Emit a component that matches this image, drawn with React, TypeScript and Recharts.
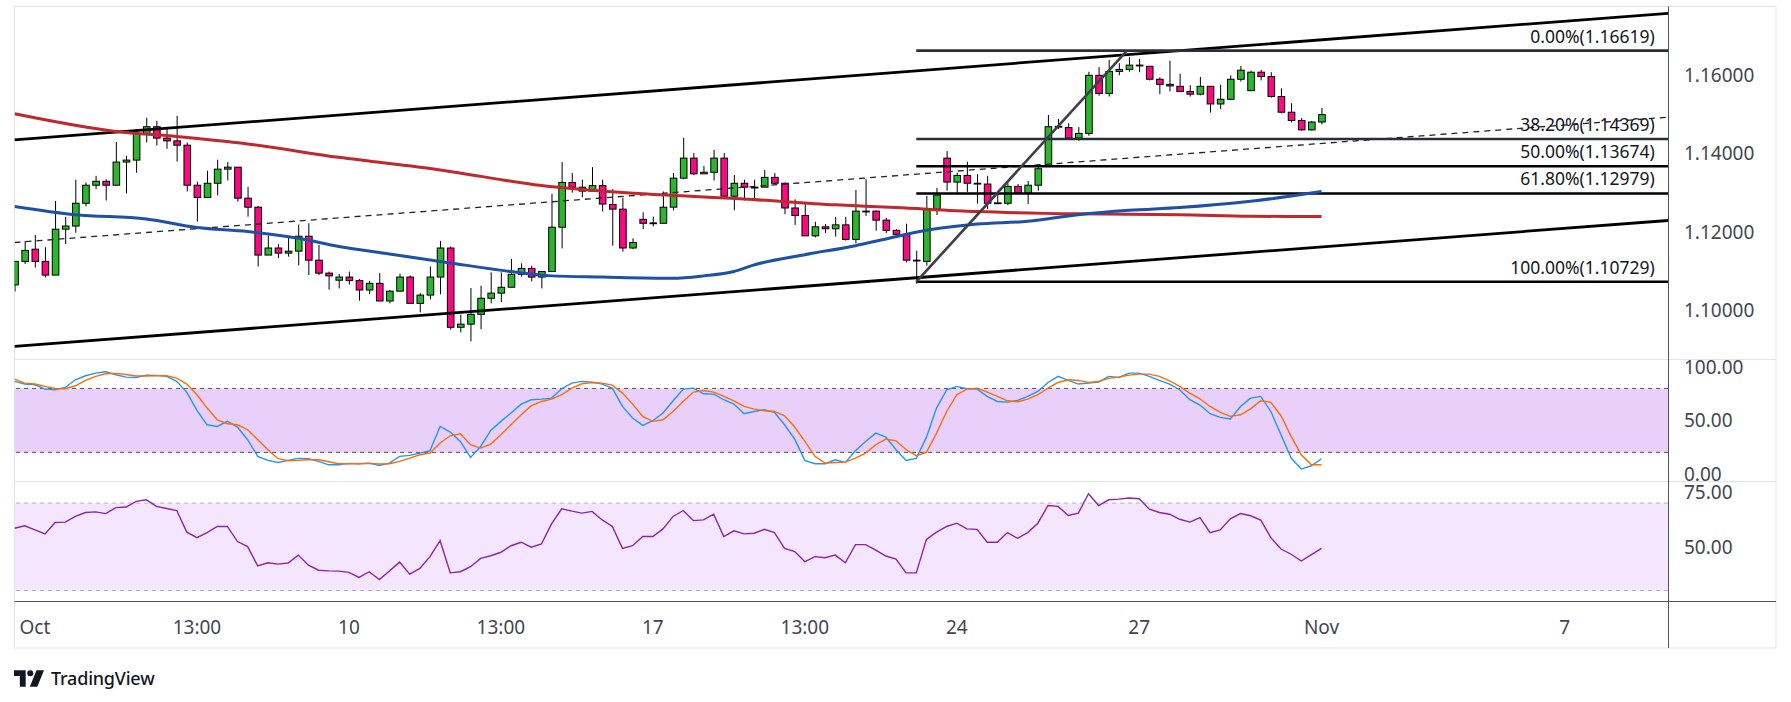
import React from 'react';
import { ComposedChart, Bar, Line, Scatter, XAxis, YAxis, ReferenceLine, ReferenceArea } from 'recharts';

const W = 1791;
const H = 702;
const FONT = '"Noto Sans", sans-serif';
const GREEN = '#2db52d';
const PINK = '#fa0a80';
const X_DOMAIN: [number, number] = [-3.01, 160.2];

// 4h bars, index 0 = first bar of Oct 3
const firstBar = -3;
const opens = [
  1.1065, 1.1125, 1.1156, 1.1125, 1.1090, 1.1207, 1.1215, 1.1273, 1.1319, 1.1329,
  1.1319, 1.1378, 1.1383, 1.1451, 1.1468, 1.1439, 1.1432, 1.1421, 1.1319, 1.1288,
  1.1324, 1.1360, 1.1365, 1.1286, 1.1263, 1.1141, 1.1159, 1.1146, 1.1151, 1.1189,
  1.1128, 1.1095, 1.1077, 1.1085, 1.1076, 1.1052, 1.1069, 1.1024, 1.1049, 1.1085,
  1.1018, 1.1039, 1.1085, 1.1159, 1.0957, 1.0965, 1.0990, 1.1031, 1.1044, 1.1059,
  1.1092, 1.1107, 1.1085, 1.1099, 1.1212, 1.1326, 1.1314, 1.1304, 1.1318, 1.1270,
  1.1258, 1.1159, 1.1232, 1.1222, 1.1222, 1.1263, 1.1337, 1.1388, 1.1348, 1.1352,
  1.1388, 1.1291, 1.1324, 1.1313, 1.1314, 1.1339, 1.1324, 1.1261, 1.1242, 1.1190,
  1.1213, 1.1208, 1.1218, 1.1181, 1.1253, 1.1253, 1.1230, 1.1204, 1.1194, 1.1127,
  1.1125, 1.1258, 1.1388, 1.1327, 1.1344, 1.1323, 1.1322, 1.1273, 1.1273, 1.1316,
  1.1299, 1.1319, 1.1368, 1.1468, 1.1466, 1.1439, 1.1451, 1.1599, 1.1553, 1.1609,
  1.1614, 1.1625, 1.1622, 1.1589, 1.1576, 1.1571, 1.1558, 1.1551, 1.1571, 1.1526,
  1.1538, 1.1589, 1.1560, 1.1607, 1.1596, 1.1545, 1.1505, 1.1484, 1.1460, 1.1480,
];
const highs = [
  1.1125, 1.1177, 1.1192, 1.1161, 1.1279, 1.1238, 1.1333, 1.1326, 1.1343, 1.1334,
  1.1429, 1.1394, 1.1462, 1.1491, 1.1483, 1.1464, 1.1496, 1.1428, 1.1328, 1.1356,
  1.1384, 1.1378, 1.1365, 1.1315, 1.1266, 1.1191, 1.1169, 1.1187, 1.1219, 1.1222,
  1.1167, 1.1099, 1.1093, 1.1099, 1.1080, 1.1075, 1.1095, 1.1052, 1.1094, 1.1089,
  1.1044, 1.1112, 1.1177, 1.1163, 1.0989, 1.1057, 1.1063, 1.1097, 1.1097, 1.1131,
  1.1120, 1.1114, 1.1099, 1.1297, 1.1378, 1.1350, 1.1333, 1.1365, 1.1333, 1.1309,
  1.1287, 1.1184, 1.1250, 1.1239, 1.1303, 1.1350, 1.1440, 1.1401, 1.1368, 1.1409,
  1.1401, 1.1345, 1.1333, 1.1333, 1.1358, 1.1350, 1.1326, 1.1283, 1.1276, 1.1226,
  1.1220, 1.1238, 1.1238, 1.1307, 1.1334, 1.1254, 1.1236, 1.1207, 1.1221, 1.1152,
  1.1292, 1.1312, 1.1406, 1.1351, 1.1379, 1.1347, 1.1343, 1.1303, 1.1324, 1.1322,
  1.1330, 1.1373, 1.1498, 1.1488, 1.1477, 1.1467, 1.1608, 1.1620, 1.1638, 1.1630,
  1.1645, 1.1641, 1.1622, 1.1594, 1.1636, 1.1603, 1.1574, 1.1595, 1.1571, 1.1575,
  1.1599, 1.1623, 1.1611, 1.1613, 1.1607, 1.1566, 1.1528, 1.1490, 1.1483, 1.1516,
];
const lows = [
  1.1048, 1.1118, 1.1109, 1.1084, 1.1090, 1.1169, 1.1198, 1.1265, 1.1309, 1.1280,
  1.1319, 1.1298, 1.1351, 1.1428, 1.1420, 1.1412, 1.1379, 1.1303, 1.1226, 1.1288,
  1.1293, 1.1331, 1.1277, 1.1239, 1.1112, 1.1141, 1.1133, 1.1137, 1.1115, 1.1090,
  1.1090, 1.1053, 1.1056, 1.1066, 1.1025, 1.1041, 1.1024, 1.1018, 1.1049, 1.1017,
  1.0995, 1.1028, 1.1041, 1.0951, 1.0944, 1.0921, 1.0952, 1.1018, 1.1021, 1.1059,
  1.1086, 1.1074, 1.1056, 1.1099, 1.1158, 1.1300, 1.1288, 1.1304, 1.1252, 1.1165,
  1.1150, 1.1156, 1.1207, 1.1214, 1.1222, 1.1255, 1.1334, 1.1345, 1.1348, 1.1331,
  1.1285, 1.1255, 1.1280, 1.1280, 1.1314, 1.1320, 1.1245, 1.1218, 1.1190, 1.1186,
  1.1197, 1.1188, 1.1178, 1.1171, 1.1241, 1.1203, 1.1197, 1.1187, 1.1122, 1.1068,
  1.1114, 1.1243, 1.1305, 1.1300, 1.1302, 1.1272, 1.1258, 1.1271, 1.1268, 1.1298,
  1.1271, 1.1305, 1.1368, 1.1462, 1.1439, 1.1432, 1.1445, 1.1547, 1.1545, 1.1599,
  1.1608, 1.1607, 1.1586, 1.1551, 1.1558, 1.1558, 1.1545, 1.1548, 1.1504, 1.1513,
  1.1536, 1.1583, 1.1560, 1.1586, 1.1542, 1.1502, 1.1479, 1.1458, 1.1458, 1.1474,
];
const closes = [
  1.1125, 1.1153, 1.1125, 1.1090, 1.1207, 1.1215, 1.1273, 1.1319, 1.1329, 1.1319,
  1.1378, 1.1383, 1.1451, 1.1468, 1.1439, 1.1432, 1.1421, 1.1319, 1.1288, 1.1324,
  1.1360, 1.1365, 1.1286, 1.1263, 1.1141, 1.1159, 1.1146, 1.1151, 1.1189, 1.1128,
  1.1095, 1.1088, 1.1085, 1.1076, 1.1052, 1.1069, 1.1024, 1.1049, 1.1085, 1.1018,
  1.1039, 1.1085, 1.1159, 1.0957, 1.0965, 1.0990, 1.1031, 1.1044, 1.1059, 1.1092,
  1.1107, 1.1085, 1.1099, 1.1212, 1.1326, 1.1314, 1.1304, 1.1318, 1.1271, 1.1258,
  1.1159, 1.1173, 1.1222, 1.1223, 1.1263, 1.1337, 1.1388, 1.1348, 1.1352, 1.1388,
  1.1291, 1.1324, 1.1314, 1.1314, 1.1339, 1.1324, 1.1261, 1.1242, 1.1190, 1.1213,
  1.1208, 1.1218, 1.1181, 1.1253, 1.1252, 1.1230, 1.1204, 1.1194, 1.1128, 1.1128,
  1.1258, 1.1294, 1.1327, 1.1344, 1.1324, 1.1324, 1.1273, 1.1274, 1.1316, 1.1299,
  1.1319, 1.1361, 1.1468, 1.1469, 1.1439, 1.1451, 1.1599, 1.1553, 1.1609, 1.1614,
  1.1625, 1.1624, 1.1589, 1.1576, 1.1572, 1.1558, 1.1551, 1.1571, 1.1526, 1.1538,
  1.1589, 1.1612, 1.1607, 1.1596, 1.1545, 1.1505, 1.1484, 1.1460, 1.1480, 1.1499,
];

// moving averages, read at a handful of bars
const slowMaBars = [-3, 7, 13, 20, 29, 39, 49, 59, 69, 78, 84, 92, 102, 112, 119, 126];
const slowMa = [1.1501, 1.1456, 1.1443, 1.1424, 1.1390, 1.1358, 1.1318, 1.1297, 1.1284, 1.1269, 1.1262, 1.1252, 1.1246, 1.1244, 1.1240, 1.1239];
const fastMaBars = [-3, 3, 10, 15, 20, 25, 29, 34, 40, 46, 50, 55, 62, 65, 68, 70, 75, 80, 83, 87, 92, 97, 102, 107, 112, 119, 126];
const fastMa = [1.1265, 1.1244, 1.1233, 1.1211, 1.1201, 1.1184, 1.1163, 1.1144, 1.1121, 1.1099, 1.1088, 1.1085, 1.1082, 1.1088, 1.1099, 1.1116, 1.1142, 1.1165, 1.1182, 1.1204, 1.1220, 1.1227, 1.1244, 1.1255, 1.1262, 1.1278, 1.1303];

const stochK = [
  86.6, 84.1, 83.4, 79.4, 78.8, 80.9, 88.1, 91.9, 94.4, 95.6, 92.8, 90.6, 90.3, 92.5, 92.2, 91.3, 86.6, 76.3, 59.4, 45.9,
  44.4, 49.1, 43.8, 31.9, 16.3, 12.5, 10.6, 12.5, 14.4, 14.1, 11.6, 8.4, 8.4, 9.7, 9.4, 10.0, 7.8, 10.0, 16.3, 17.2,
  19.4, 21.6, 44.4, 39.1, 30.3, 15.3, 25.6, 40.6, 49.1, 56.9, 65.3, 69.4, 70.0, 70.9, 79.7, 85.0, 86.6, 85.9, 84.1,
  80.3, 63.1, 52.2, 45.3, 49.7, 56.9, 68.4, 79.4, 80.3, 75.0, 74.7, 69.4, 65.3, 56.3, 58.4, 60.0, 57.5, 45.9, 32.5, 12.5,
  9.4, 9.4, 13.1, 10.6, 21.6, 30.3, 38.1, 34.4, 22.5, 12.5, 14.4, 34.1, 61.6, 78.8, 81.9, 79.7, 79.4, 72.5, 67.8, 67.2,
  68.8, 72.5, 77.2, 85.6, 91.3, 87.5, 84.1, 85.0, 85.9, 91.3, 90.3, 94.4, 94.4, 91.3, 87.5, 84.1, 78.8, 69.4, 64.4,
  56.3, 52.8, 51.3, 63.1, 70.9, 72.5, 58.4, 36.6, 14.7, 4.4, 7.5, 14.1,
];
const stochD = [
  88.8, 85.0, 84.1, 81.9, 80.0, 79.7, 82.5, 87.5, 91.3, 93.8, 94.1, 93.1, 91.6, 91.6, 91.9, 91.9, 89.7, 84.1, 74.1, 61.6,
  50.6, 46.9, 45.9, 41.3, 31.9, 22.5, 14.1, 12.2, 12.5, 13.1, 13.1, 11.3, 9.4, 9.4, 9.4, 9.7, 9.1, 9.4, 11.6, 14.7,
  17.8, 19.4, 28.8, 35.6, 37.5, 27.2, 24.1, 27.8, 36.6, 45.9, 55.3, 63.8, 67.8, 70.0, 74.1, 80.3, 84.4, 85.6, 85.0,
  83.1, 75.6, 65.3, 53.8, 49.1, 50.6, 58.4, 67.8, 76.6, 78.1, 76.6, 72.5, 68.4, 63.1, 60.6, 59.1, 58.4, 54.4, 43.8, 30.3,
  16.3, 10.0, 10.6, 10.9, 14.7, 19.4, 27.2, 32.5, 30.9, 22.5, 16.9, 20.0, 38.1, 58.4, 74.1, 79.4, 80.3, 76.6, 72.5, 68.4,
  67.5, 70.0, 74.1, 80.3, 85.6, 88.1, 87.5, 85.6, 86.6, 89.4, 90.6, 92.5, 93.4, 93.4, 91.3, 87.2, 81.9, 75.6, 70.3,
  63.1, 57.5, 53.8, 55.3, 60.9, 68.4, 66.9, 54.4, 35.0, 17.8, 8.4, 8.4,
];
const rsi = [
  58.5, 59.6, 57.7, 55.9, 61.1, 61.3, 63.9, 65.7, 66.0, 65.2, 67.9, 68.2, 70.8, 71.5, 68.5, 67.5, 66.6, 56.7, 54.2, 56.5,
  59.3, 59.3, 52.4, 50.1, 41.3, 42.7, 42.1, 42.6, 46.2, 41.6, 39.3, 39.0, 38.9, 38.3, 36.0, 38.6, 35.0, 38.9, 43.0, 37.5,
  40.1, 45.5, 52.8, 38.1, 38.6, 40.9, 44.7, 45.9, 47.5, 50.5, 52.1, 49.8, 51.3, 60.5, 67.4, 66.3, 65.4, 66.2, 62.3,
  59.3, 49.3, 50.5, 54.7, 54.7, 58.2, 63.9, 66.6, 62.0, 62.3, 64.9, 54.7, 57.3, 55.9, 56.2, 58.0, 56.5, 49.3, 47.8, 43.2,
  45.5, 45.0, 46.2, 42.7, 51.0, 51.0, 48.5, 45.8, 44.4, 38.1, 38.1, 53.4, 56.7, 59.3, 60.8, 58.2, 58.0, 52.1, 52.1, 56.5,
  53.9, 56.5, 60.8, 68.9, 68.5, 64.3, 65.4, 74.3, 68.9, 71.5, 71.8, 72.3, 72.0, 67.2, 65.7, 64.9, 62.6, 61.3, 63.4,
  56.5, 57.7, 62.8, 65.2, 64.2, 62.2, 54.2, 49.0, 46.6, 43.5, 46.4, 49.3,
];

const timeTicks = [-1, 15, 30, 45, 60, 75, 90, 108, 126, 150];
const timeLabels = ['Oct', '13:00', '10', '13:00', '17', '13:00', '24', '27', 'Nov', '7'];
const priceTicks = [1.1, 1.12, 1.14, 1.16];
const stochTicks = [0, 50, 100];
const rsiTicks = [50, 75];

// drawings
const fibStartBar = 86;
const fibLevels = [1.16619, 1.14369, 1.13674, 1.12979, 1.10729];
const fibNames = ['0.00%', '38.20%', '50.00%', '61.80%', '100.00%'];
const fibColors = ['#2a2e39', '#2a2e39', '#000000', '#000000', '#000000'];
const channelUpper = [1.14345, 1.17571];
const channelLower = [1.09083, 1.12291];
const channelMid = [1.11731, 1.14923];
const swingBars = [86, 106.8];

const rows: any[] = opens.map((o, i) => ({
  k: firstBar + i,
  o,
  h: highs[i],
  l: lows[i],
  c: closes[i],
  stK: stochK[i],
  stD: stochD[i],
  rsi: rsi[i],
}));
slowMaBars.forEach((k, j) => { rows[k - firstBar].slow = slowMa[j]; });
fastMaBars.forEach((k, j) => { rows[k - firstBar].fast = fastMa[j]; });

const fibLabelRows = fibLevels.map((p, i) => ({ k: 158.9, p, label: `${fibNames[i]}(${p.toFixed(5)})` }));

const Candle = (props: any) => {
  const { x, y, width, height, payload } = props;
  if (!payload || height == null) return null;
  const { o, h, l, c } = payload;
  const top = Math.min(y, y + height);
  const hh = Math.abs(height);
  const toY = (v: number) => top + ((h - v) / (h - l || 1)) * hh;
  const cx = x + width / 2;
  const bTop = toY(Math.max(o, c));
  const bBot = toY(Math.min(o, c));
  return (
    <g>
      <line x1={cx} x2={cx} y1={top} y2={top + hh} stroke="#000" strokeWidth={1} />
      <rect
        x={cx - 3.3}
        y={bTop}
        width={6.6}
        height={Math.max(bBot - bTop, 0.8)}
        fill={c >= o ? GREEN : PINK}
        stroke="#000"
        strokeWidth={1}
      />
    </g>
  );
};

const AxisText = (fmt: (v: number) => string) => (p: any) => (
  <text x={p.x + 14} y={p.y} textAnchor="start" dominantBaseline="central" fontSize={19} fill="#434651" fontFamily={FONT}>
    {fmt(p.payload.value)}
  </text>
);

const TimeTick = (p: any) => {
  const idx = timeTicks.indexOf(p.payload.value);
  return (
    <text x={p.x} y={p.y + 23} textAnchor="middle" dominantBaseline="central" fontSize={19} fill="#434651" fontFamily={FONT}>
      {timeLabels[idx]}
    </text>
  );
};

const FibLabel = (p: any) => (
  <text x={p.cx} y={p.cy - 15} textAnchor="end" dominantBaseline="central" fontSize={17.5} fill="#131722" fontFamily={FONT}>
    {p.payload.label}
  </text>
);

const MARGIN = { top: 0, bottom: 0, left: 14.5, right: 15 };

const PricePane = () => (
  <ComposedChart width={W} height={352} data={rows} margin={MARGIN}>
    <XAxis dataKey="k" type="number" domain={X_DOMAIN} allowDataOverflow hide />
    <YAxis
      orientation="right"
      type="number"
      domain={[1.08762, 1.17731]}
      allowDataOverflow
      ticks={priceTicks}
      interval={0}
      width={108}
      axisLine={false}
      tickLine={false}
      tickSize={0}
      tick={AxisText((v) => v.toFixed(5))}
    />
    <ReferenceLine segment={[{ x: X_DOMAIN[0], y: channelUpper[0] }, { x: X_DOMAIN[1], y: channelUpper[1] }]} stroke="#000" strokeWidth={2.8} ifOverflow="hidden" />
    <ReferenceLine segment={[{ x: X_DOMAIN[0], y: channelLower[0] }, { x: X_DOMAIN[1], y: channelLower[1] }]} stroke="#000" strokeWidth={2.8} ifOverflow="hidden" />
    <ReferenceLine segment={[{ x: X_DOMAIN[0], y: channelMid[0] }, { x: X_DOMAIN[1], y: channelMid[1] }]} stroke="#222" strokeWidth={1.3} strokeDasharray="6 5" ifOverflow="hidden" />
    {fibLevels.map((p, i) => (
      <ReferenceLine key={p} segment={[{ x: fibStartBar, y: p }, { x: X_DOMAIN[1], y: p }]} stroke={fibColors[i]} strokeWidth={2.6} ifOverflow="hidden" />
    ))}
    <Line dataKey="slow" type="monotone" stroke="#c0282d" strokeWidth={3} dot={false} connectNulls isAnimationActive={false} />
    <Line dataKey="fast" type="monotone" stroke="#1f50a8" strokeWidth={3} dot={false} connectNulls isAnimationActive={false} />
    <ReferenceLine segment={[{ x: swingBars[0], y: fibLevels[4] }, { x: swingBars[1], y: fibLevels[0] }]} stroke="#3c3f47" strokeWidth={2.6} ifOverflow="hidden" />
    <Bar dataKey={(d: any) => [d.l, d.h]} barSize={7} shape={Candle} isAnimationActive={false} />
    <Scatter data={fibLabelRows} dataKey="p" shape={FibLabel} isAnimationActive={false} />
  </ComposedChart>
);

const StochPane = () => (
  <ComposedChart width={W} height={122} data={rows} margin={MARGIN}>
    <XAxis dataKey="k" type="number" domain={X_DOMAIN} allowDataOverflow hide />
    <YAxis
      orientation="right"
      type="number"
      domain={[-6.8, 107.6]}
      allowDataOverflow
      ticks={stochTicks}
      interval={0}
      width={108}
      axisLine={false}
      tickLine={false}
      tickSize={0}
      tick={AxisText((v) => v.toFixed(2))}
    />
    <ReferenceArea y1={20} y2={80} fill="#e8d0fb" fillOpacity={1} stroke="none" ifOverflow="hidden" />
    <ReferenceLine y={80} stroke="#555" strokeDasharray="4 4" />
    <ReferenceLine y={20} stroke="#555" strokeDasharray="4 4" />
    <Line dataKey="stK" type="linear" stroke="#2196f3" strokeWidth={1.4} dot={false} isAnimationActive={false} />
    <Line dataKey="stD" type="linear" stroke="#ff6d00" strokeWidth={1.4} dot={false} isAnimationActive={false} />
  </ComposedChart>
);

const RsiPane = () => (
  <ComposedChart width={W} height={167} data={rows} margin={MARGIN}>
    <XAxis
      dataKey="k"
      type="number"
      domain={X_DOMAIN}
      allowDataOverflow
      ticks={timeTicks}
      interval={0}
      height={46}
      axisLine={false}
      tickLine={false}
      tickSize={0}
      tick={TimeTick}
    />
    <YAxis
      orientation="right"
      type="number"
      domain={[24.76, 80.1]}
      allowDataOverflow
      ticks={rsiTicks}
      interval={0}
      width={108}
      axisLine={false}
      tickLine={false}
      tickSize={0}
      tick={AxisText((v) => v.toFixed(2))}
    />
    <ReferenceArea y1={30} y2={70} fill="#f4e6fe" fillOpacity={1} stroke="none" ifOverflow="hidden" />
    <ReferenceLine y={70} stroke="#b2b5be" strokeDasharray="4 4" />
    <ReferenceLine y={30} stroke="#b2b5be" strokeDasharray="4 4" />
    <Line dataKey="rsi" type="linear" stroke="#8e24aa" strokeWidth={1.4} dot={false} isAnimationActive={false} />
  </ComposedChart>
);

export default function App() {
  return (
    <div style={{ position: 'fixed', left: 0, top: 0, width: W, height: H, background: '#fff', overflow: 'hidden', fontFamily: FONT }}>
      <style>{'.recharts-surface { overflow: visible; } .recharts-wrapper { overflow: visible; }'}</style>
      <svg style={{ position: 'absolute', left: 0, top: 0 }} width={W} height={H}>
        <rect x={14.5} y={6.5} width={1761.5} height={641.5} fill="none" stroke="#e0e3eb" />
        <line x1={14.5} x2={1776} y1={359.5} y2={359.5} stroke="#e0e3eb" />
        <line x1={14.5} x2={1776} y1={481.5} y2={481.5} stroke="#e0e3eb" />
      </svg>
      <div style={{ position: 'absolute', left: 0, top: 7 }}><PricePane /></div>
      <div style={{ position: 'absolute', left: 0, top: 359 }}><StochPane /></div>
      <div style={{ position: 'absolute', left: 0, top: 481 }}><RsiPane /></div>
      <svg style={{ position: 'absolute', left: 0, top: 0, pointerEvents: 'none' }} width={W} height={H}>
        <line x1={14.5} x2={1776} y1={601.5} y2={601.5} stroke="#50535e" />
        <line x1={1668.5} x2={1668.5} y1={6.5} y2={648} stroke="#50535e" />
      </svg>
      <div style={{ position: 'absolute', left: 14, top: 666, display: 'flex', alignItems: 'center', gap: 7 }}>
        <svg width={30} height={17} viewBox="0 0 36 20">
          <path d="M0 0H14V20H7V7H0Z" fill="#131722" />
          <circle cx={19.5} cy={3.6} r={3.6} fill="#131722" />
          <path d="M27 0H36L28 20H19Z" fill="#131722" />
        </svg>
        <span style={{ fontSize: 18, color: '#131722', fontWeight: 500, letterSpacing: -0.2 }}>TradingView</span>
      </div>
    </div>
  );
}
